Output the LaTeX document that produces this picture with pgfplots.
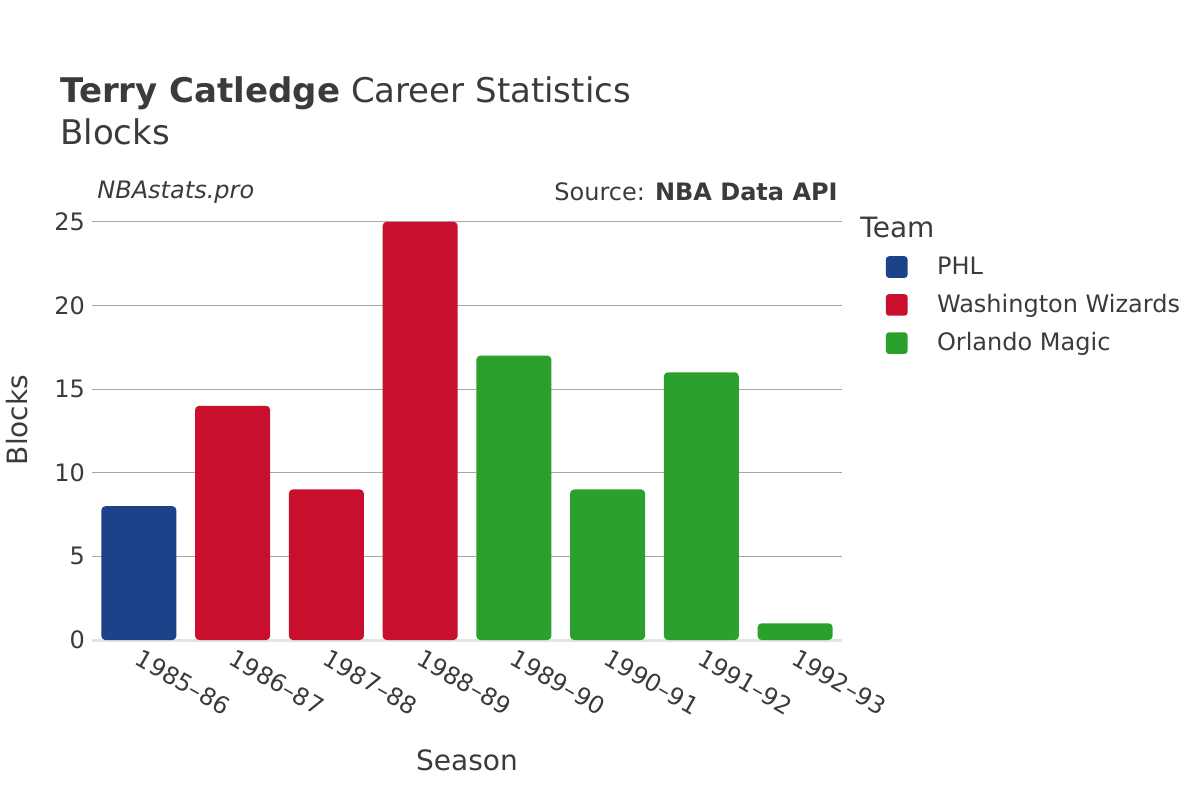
\documentclass[border=0pt]{standalone}
\usepackage{pgfplots}
\pgfplotsset{compat=1.18}
\usepackage{fontspec}
\setmainfont{DejaVu Sans}

\definecolor{txt}{HTML}{3B3B3B}
\definecolor{phl}{HTML}{1D428A}
\definecolor{was}{HTML}{C8102E}
\definecolor{orl}{HTML}{2CA02C}
\definecolor{gridc}{HTML}{A8A8A8}
\definecolor{zeroc}{HTML}{E4E4E4}

\begin{document}
\begin{tikzpicture}
\path[use as bounding box] (0,0) rectangle (600pt,-400pt);
\begin{axis}[
    at={(46pt,-320pt)}, anchor=south west,
    scale only axis,
    width=375pt, height=220pt,
    xmin=-0.5, xmax=7.5,
    ymin=0, ymax=26.3,
    axis line style={draw=none},
    tick style={draw=none},
    ymajorgrids=true,
    grid style={gridc, line width=0.5pt},
    ytick={0,5,10,15,20,25},
    xtick={0,...,7},
    xticklabels={1985--86,1986--87,1987--88,1988--89,1989--90,1990--91,1991--92,1992--93},
    xticklabel style={rotate=-30, anchor=north west, inner sep=0pt, font=\fontsize{12pt}{14pt}\selectfont, text=txt, xshift=1.5pt, yshift=1.2pt},
    yticklabel style={font=\fontsize{12pt}{14pt}\selectfont, text=txt},
    /pgf/number format/assume math mode=true,
    ybar, bar width=37.5pt, bar shift=0pt,
    legend cell align=left,
    legend style={at={(1.05,0.89)}, anchor=north west, draw=none, fill=none,
        font=\fontsize{12pt}{14pt}\selectfont, text=txt, row sep=4.5pt},
    legend image code/.code={\fill[#1, rounded corners=1.5pt] (-0.19cm,-0.19cm) rectangle (0.19cm,0.19cm);},
    clip=false,
]
\draw[zeroc, line width=1.5pt] (axis cs:-0.5,0) -- (axis cs:7.5,0);
\addplot[fill=phl, draw=none, rounded corners=2pt] coordinates {(0,8)};
\addlegendentry{\hspace{12.75pt}PHL}
\addplot[fill=was, draw=none, rounded corners=2pt] coordinates {(1,14) (2,9) (3,25)};
\addlegendentry{\hspace{12.75pt}Washington Wizards}
\addplot[fill=orl, draw=none, rounded corners=2pt] coordinates {(4,17) (5,9) (6,16) (7,1)};
\addlegendentry{\hspace{12.75pt}Orlando Magic}
\end{axis}
% titles
\node[anchor=base west, inner sep=0pt, text=txt, font=\fontsize{17pt}{20pt}\selectfont] at (30pt,-51pt) {\textbf{Terry Catledge} Career Statistics};
\node[anchor=base west, inner sep=0pt, text=txt, font=\fontsize{17pt}{20pt}\selectfont] at (30pt,-72pt) {Blocks};
\node[anchor=west, inner sep=0pt, text=txt, font=\fontsize{12pt}{14pt}\selectfont\itshape] at (48.5pt,-96pt) {NBAstats.pro};
\node[anchor=east, inner sep=0pt, text=txt, font=\fontsize{12pt}{14pt}\selectfont] at (419pt,-96pt) {Source: \textbf{NBA Data API}};
\node[anchor=west, inner sep=0pt, text=txt, font=\fontsize{14pt}{16pt}\selectfont] at (430pt,-113.5pt) {Team};
\node[text=txt, inner sep=0pt, font=\fontsize{14pt}{16pt}\selectfont, rotate=90] at (8.5pt,-210pt) {Blocks};
\node[text=txt, inner sep=0pt, font=\fontsize{14pt}{16pt}\selectfont] at (233.5pt,-380pt) {Season};
\end{tikzpicture}
\end{document}
